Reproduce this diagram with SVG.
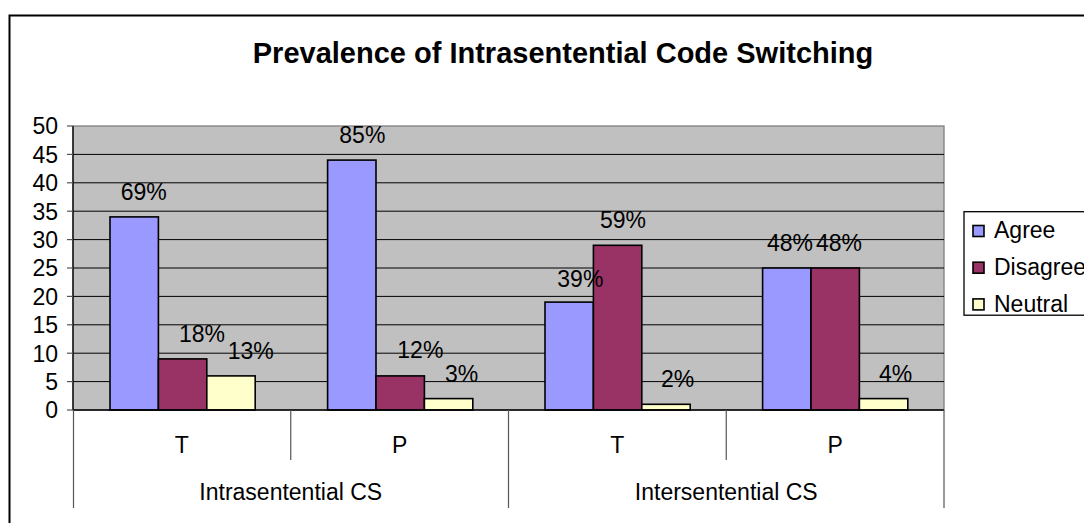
<svg xmlns="http://www.w3.org/2000/svg" width="1084" height="523" viewBox="0 0 1084 523">
  <style>
    text { font-family: "Liberation Sans", Arial, sans-serif; fill: #000; }
    .title { font-size: 29px; font-weight: bold; }
    .lbl { font-size: 23px; }
    .ytick { font-size: 23px; text-anchor: end; }
    .cat { font-size: 23px; text-anchor: middle; }
    .grid { stroke: #000; stroke-width: 1; }
    .bar { stroke: #000; stroke-width: 1.6; }
    .agree { fill: #9999FF; }
    .disagree { fill: #993366; }
    .neutral { fill: #FFFFCC; }
    .tick { stroke: #555; stroke-width: 1.2; }
  </style>

  <rect x="0" y="0" width="1084" height="523" fill="#fff"/>
  <!-- chart frame (runs off the right and bottom edges) -->
  <rect x="9.5" y="15.5" width="1100" height="520" fill="#fff" stroke="#000" stroke-width="2"/>

  <g id="title">
    <text class="title" x="563" y="63" text-anchor="middle">Prevalence of Intrasentential Code Switching</text>
  </g>

  <!-- plot area: y=126 is 50, y=410 is 0, 5.68 px per unit -->
  <g id="plot-area">
    <rect x="73" y="126" width="871" height="284" fill="#C0C0C0" stroke="#808080" stroke-width="1.3"/>
    <g class="grid">
      <line x1="73" y1="154.4" x2="944" y2="154.4"/>
      <line x1="73" y1="182.8" x2="944" y2="182.8"/>
      <line x1="73" y1="211.2" x2="944" y2="211.2"/>
      <line x1="73" y1="239.6" x2="944" y2="239.6"/>
      <line x1="73" y1="268" x2="944" y2="268"/>
      <line x1="73" y1="296.4" x2="944" y2="296.4"/>
      <line x1="73" y1="324.8" x2="944" y2="324.8"/>
      <line x1="73" y1="353.2" x2="944" y2="353.2"/>
      <line x1="73" y1="381.6" x2="944" y2="381.6"/>
    </g>
  </g>

  <g id="value-axis">
    <line x1="73" y1="126" x2="73" y2="410" stroke="#000" stroke-width="1.3"/>
    <g class="tick" stroke="#000">
      <line x1="67" y1="126" x2="73" y2="126"/>
      <line x1="67" y1="154.4" x2="73" y2="154.4"/>
      <line x1="67" y1="182.8" x2="73" y2="182.8"/>
      <line x1="67" y1="211.2" x2="73" y2="211.2"/>
      <line x1="67" y1="239.6" x2="73" y2="239.6"/>
      <line x1="67" y1="268" x2="73" y2="268"/>
      <line x1="67" y1="296.4" x2="73" y2="296.4"/>
      <line x1="67" y1="324.8" x2="73" y2="324.8"/>
      <line x1="67" y1="353.2" x2="73" y2="353.2"/>
      <line x1="67" y1="381.6" x2="73" y2="381.6"/>
      <line x1="67" y1="410" x2="73" y2="410"/>
    </g>
    <text class="ytick" x="58" y="134.3">50</text>
    <text class="ytick" x="58" y="162.7">45</text>
    <text class="ytick" x="58" y="191.1">40</text>
    <text class="ytick" x="58" y="219.5">35</text>
    <text class="ytick" x="58" y="247.9">30</text>
    <text class="ytick" x="58" y="276.3">25</text>
    <text class="ytick" x="58" y="304.7">20</text>
    <text class="ytick" x="58" y="333.1">15</text>
    <text class="ytick" x="58" y="361.5">10</text>
    <text class="ytick" x="58" y="389.9">5</text>
    <text class="ytick" x="58" y="418.3">0</text>
  </g>

  <g id="series-agree">
    <rect class="bar agree" x="110" y="216.9" width="48.4" height="193.1"/>
    <rect class="bar agree" x="327.6" y="160.1" width="48.4" height="249.9"/>
    <rect class="bar agree" x="545" y="302.1" width="48.4" height="107.9"/>
    <rect class="bar agree" x="762.6" y="268" width="48.4" height="142"/>
  </g>
  <g id="series-disagree">
    <rect class="bar disagree" x="158.4" y="358.9" width="48.4" height="51.1"/>
    <rect class="bar disagree" x="376" y="375.9" width="48.4" height="34.1"/>
    <rect class="bar disagree" x="593.4" y="245.3" width="48.4" height="164.7"/>
    <rect class="bar disagree" x="811" y="268" width="48.4" height="142"/>
  </g>
  <g id="series-neutral">
    <rect class="bar neutral" x="206.8" y="375.9" width="48.4" height="34.1"/>
    <rect class="bar neutral" x="424.4" y="398.6" width="48.4" height="11.4"/>
    <rect class="bar neutral" x="641.8" y="404.3" width="48.4" height="5.7"/>
    <rect class="bar neutral" x="859.4" y="398.6" width="48.4" height="11.4"/>
  </g>

  <g id="data-labels">
    <text class="lbl" x="120.7" y="200">69%</text>
    <text class="lbl" x="179" y="341.7">18%</text>
    <text class="lbl" x="227.7" y="359.3">13%</text>
    <text class="lbl" x="339.3" y="143.3">85%</text>
    <text class="lbl" x="397.3" y="358.3">12%</text>
    <text class="lbl" x="445" y="381.7">3%</text>
    <text class="lbl" x="557.3" y="286.7">39%</text>
    <text class="lbl" x="600" y="228.3">59%</text>
    <text class="lbl" x="661" y="387.3">2%</text>
    <text class="lbl" x="767" y="251">48%</text>
    <text class="lbl" x="816" y="251">48%</text>
    <text class="lbl" x="879" y="381.7">4%</text>
  </g>

  <g id="category-axis">
    <line x1="73" y1="410" x2="944" y2="410" stroke="#000" stroke-width="1.5"/>
    <g class="tick">
      <line x1="73.5" y1="410" x2="73.5" y2="508"/>
      <line x1="290.75" y1="410" x2="290.75" y2="460"/>
      <line x1="508.5" y1="410" x2="508.5" y2="508"/>
      <line x1="726.25" y1="410" x2="726.25" y2="460"/>
      <line x1="944" y1="410" x2="944" y2="508"/>
    </g>
    <text class="cat" x="181.9" y="453">T</text>
    <text class="cat" x="399.6" y="453">P</text>
    <text class="cat" x="617.4" y="453">T</text>
    <text class="cat" x="835.1" y="453">P</text>
    <text class="cat" x="290.75" y="500">Intrasentential CS</text>
    <text class="cat" x="726.25" y="500">Intersentential CS</text>
  </g>

  <g id="legend">
    <rect x="964" y="211.7" width="140" height="103.5" fill="#fff" stroke="#000" stroke-width="1.3"/>
    <rect class="bar agree" x="973" y="225.5" width="11" height="11"/>
    <text class="lbl" x="994" y="238.3">Agree</text>
    <rect class="bar disagree" x="973" y="262.2" width="11" height="11"/>
    <text class="lbl" x="994" y="275">Disagree</text>
    <rect class="bar neutral" x="973" y="298.9" width="11" height="11"/>
    <text class="lbl" x="994" y="311.7">Neutral</text>
  </g>
</svg>
